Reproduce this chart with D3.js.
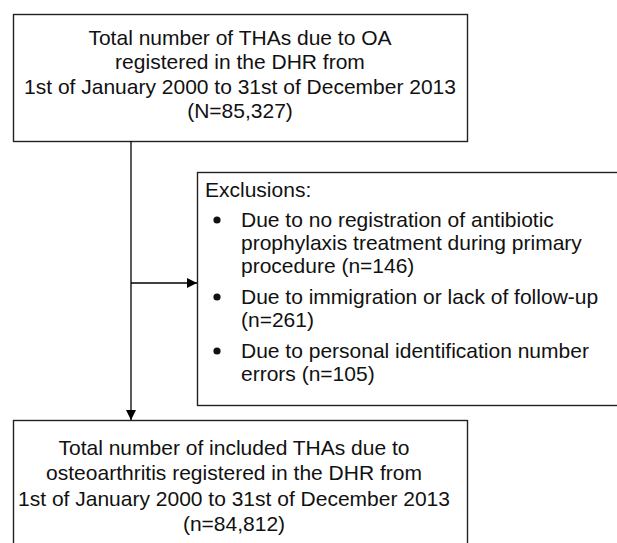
<!DOCTYPE html>
<html>
<head>
<meta charset="utf-8">
<script src="https://cdn.jsdelivr.net/npm/d3@7"></script>
<style>
  body { margin: 0; background: #fff; }
  svg { display: block; }
</style>
</head>
<body>
<div id="chart"></div>
<script>
// Flowchart text
const topLines = [
  "Total number of THAs due to OA",
  "registered in the DHR from",
  "1st of January 2000 to 31st of December 2013",
  "(N=85,327)"
];
const exclusionTitle = "Exclusions:";
const exclusionItems = [
  ["Due to no registration of antibiotic", "prophylaxis treatment during primary", "procedure (n=146)"],
  ["Due to immigration or lack of follow-up", "(n=261)"],
  ["Due to personal identification number", "errors (n=105)"]
];
const bottomLines = [
  "Total number of included THAs due to",
  "osteoarthritis registered in the DHR from",
  "1st of January 2000 to 31st of December 2013",
  "(n=84,812)"
];

const W = 617, H = 543;
const font = "'Liberation Sans', Arial, sans-serif";
const fontSize = 21;
const stroke = "#222";

const svg = d3.select("#chart").append("svg")
  .attr("width", W)
  .attr("height", H)
  .attr("viewBox", `0 0 ${W} ${H}`);

const defs = svg.append("defs");
defs.append("marker")
  .attr("id", "arrow")
  .attr("viewBox", "0 0 10 10")
  .attr("refX", 10).attr("refY", 5)
  .attr("markerWidth", 11).attr("markerHeight", 10)
  .attr("markerUnits", "userSpaceOnUse")
  .attr("orient", "auto")
  .append("path")
  .attr("d", "M0,0L10,5L0,10Z")
  .attr("fill", "#000");

// boxes
const boxes = {
  top: { x: 13, y: 14, w: 454, h: 127 },
  excl: { x: 197, y: 172, w: 430, h: 233 },
  bottom: { x: 13, y: 420, w: 454, h: 140 }
};

Object.values(boxes).forEach(b => {
  svg.append("rect")
    .attr("x", b.x + 0.5).attr("y", b.y + 0.5)
    .attr("width", b.w).attr("height", b.h)
    .attr("fill", "none")
    .attr("stroke", stroke)
    .attr("stroke-width", 1.4);
});

// centered text blocks
function centeredText(lines, cx, firstBaseline, lineH) {
  svg.append("g").selectAll("text")
    .data(lines)
    .join("text")
    .attr("x", cx)
    .attr("y", (d, i) => firstBaseline + i * lineH)
    .attr("text-anchor", "middle")
    .style("font-family", font)
    .style("font-size", fontSize + "px")
    .style("fill", "#111")
    .text(d => d);
}
centeredText(topLines, 240, 45, 24.4);
centeredText(bottomLines, 234, 455, 25.4);

// exclusions
const ex = boxes.excl;
svg.append("text")
  .attr("x", ex.x + 8)
  .attr("y", 197)
  .style("font-family", font)
  .style("font-size", fontSize + "px")
  .style("fill", "#111")
  .text(exclusionTitle);

const lineH2 = 23;
const bulletGap = 8;
let y = 227;
exclusionItems.forEach(item => {
  svg.append("circle")
    .attr("cx", ex.x + 20)
    .attr("cy", y - 7)
    .attr("r", 3.6)
    .attr("fill", "#111");
  item.forEach((line, j) => {
    svg.append("text")
      .attr("x", ex.x + 44)
      .attr("y", y + j * lineH2)
      .style("font-family", font)
      .style("font-size", fontSize + "px")
      .style("fill", "#111")
      .text(line);
  });
  y += item.length * lineH2 + bulletGap;
});

// connectors
const trunkX = 131;
svg.append("line")
  .attr("x1", trunkX).attr("y1", boxes.top.y + boxes.top.h)
  .attr("x2", trunkX).attr("y2", boxes.bottom.y)
  .attr("stroke", "#000").attr("stroke-width", 1.3)
  .attr("marker-end", "url(#arrow)");
svg.append("line")
  .attr("x1", trunkX).attr("y1", 283)
  .attr("x2", ex.x).attr("y2", 283)
  .attr("stroke", "#000").attr("stroke-width", 1.3)
  .attr("marker-end", "url(#arrow)");
</script>
</body>
</html>
